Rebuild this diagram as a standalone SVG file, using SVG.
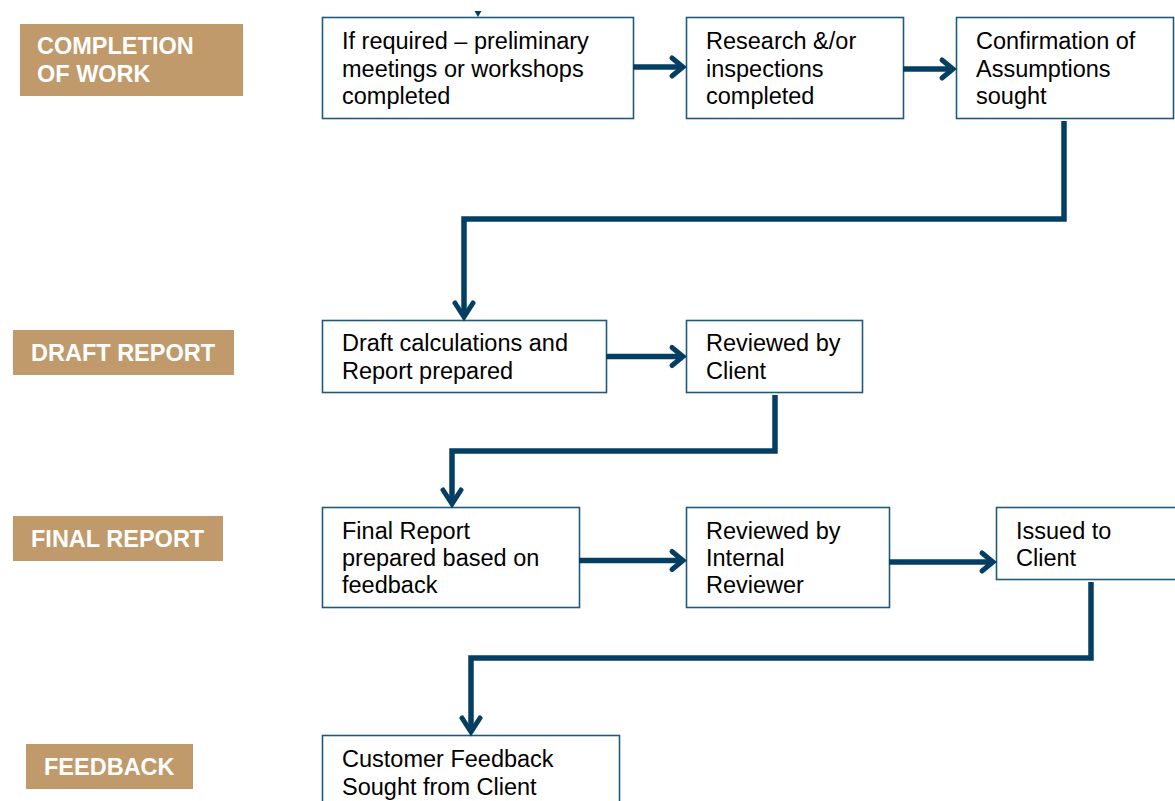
<svg xmlns="http://www.w3.org/2000/svg" width="1175" height="801" viewBox="0 0 1175 801">
  <style>
    .stage rect { fill: #C09A6B; }
    .stage text { fill: #FFFFFF; font-family: "Liberation Sans", Arial, sans-serif; font-weight: bold; font-size: 23.5px; }
    .node rect { fill: #FFFFFF; stroke: #1F5A7C; stroke-width: 1.6; }
    .node text { fill: #000000; font-family: "Liberation Sans", Arial, sans-serif; font-size: 23.5px; }
    .flow { fill: none; stroke: #043F63; stroke-width: 5.5; stroke-linejoin: miter; }
    .head { fill: none; stroke: #043F63; stroke-width: 5; stroke-linecap: round; stroke-linejoin: miter; }
  </style>

  <!-- stage labels -->
  <g id="stage-completion" class="stage">
    <rect x="20" y="24" width="223" height="72"/>
    <text x="37" y="54">COMPLETION</text>
    <text x="37" y="81.5">OF WORK</text>
  </g>
  <g id="stage-draft" class="stage">
    <rect x="13" y="330" width="221" height="45"/>
    <text x="31" y="361">DRAFT REPORT</text>
  </g>
  <g id="stage-final" class="stage">
    <rect x="13" y="516" width="210" height="45"/>
    <text x="31" y="547">FINAL REPORT</text>
  </g>
  <g id="stage-feedback" class="stage">
    <rect x="26" y="744" width="167" height="45"/>
    <text x="44" y="775">FEEDBACK</text>
  </g>

  <!-- process steps -->
  <g id="node-meetings" class="node">
    <rect x="322.5" y="17.5" width="311" height="101"/>
    <text x="342" y="49">If required – preliminary</text>
    <text x="342" y="76.5">meetings or workshops</text>
    <text x="342" y="104">completed</text>
  </g>
  <g id="node-research" class="node">
    <rect x="686.5" y="17.5" width="217" height="101"/>
    <text x="706" y="49">Research &amp;/or</text>
    <text x="706" y="76.5">inspections</text>
    <text x="706" y="104">completed</text>
  </g>
  <g id="node-assumptions" class="node">
    <rect x="956.5" y="17.5" width="217" height="101"/>
    <text x="976" y="49">Confirmation of</text>
    <text x="976" y="76.5">Assumptions</text>
    <text x="976" y="104">sought</text>
  </g>
  <g id="node-draft" class="node">
    <rect x="322.5" y="320.5" width="284" height="72"/>
    <text x="342" y="351">Draft calculations and</text>
    <text x="342" y="378.5">Report prepared</text>
  </g>
  <g id="node-client-review" class="node">
    <rect x="686.5" y="320.5" width="176" height="72"/>
    <text x="706" y="351">Reviewed by</text>
    <text x="706" y="378.5">Client</text>
  </g>
  <g id="node-final" class="node">
    <rect x="322.5" y="507.5" width="257" height="100"/>
    <text x="342" y="538.5">Final Report</text>
    <text x="342" y="566">prepared based on</text>
    <text x="342" y="593">feedback</text>
  </g>
  <g id="node-internal-review" class="node">
    <rect x="686.5" y="507.5" width="203" height="100"/>
    <text x="706" y="538.5">Reviewed by</text>
    <text x="706" y="566">Internal</text>
    <text x="706" y="593">Reviewer</text>
  </g>
  <g id="node-issued" class="node">
    <rect x="996.5" y="507.5" width="180" height="72"/>
    <text x="1016" y="538.5">Issued to</text>
    <text x="1016" y="566">Client</text>
  </g>
  <g id="node-feedback" class="node">
    <rect x="322.5" y="735.5" width="297" height="70"/>
    <text x="342" y="767">Customer Feedback</text>
    <text x="342" y="794.5">Sought from Client</text>
  </g>

  <!-- connectors -->
  <g id="connectors">
    <!-- incoming tip from the previous stage -->
    <path d="M474.5 11 L481.5 11 L478 17 Z" fill="#043F63"/>

    <path class="flow" d="M633 67 H682"/>
    <path class="head" d="M672 58 L683 67 L672 76"/>

    <path class="flow" d="M903 69 H952"/>
    <path class="head" d="M942 60 L953 69 L942 78"/>

    <path class="flow" d="M1064 121 V219 H464 V315"/>
    <path class="head" d="M455 303 L464 317 L473 303"/>

    <path class="flow" d="M606 356.5 H682"/>
    <path class="head" d="M672 347.5 L683 356.5 L672 365.5"/>

    <path class="flow" d="M775 395 V451 H452 V502"/>
    <path class="head" d="M443 490 L452 504 L461 490"/>

    <path class="flow" d="M579 560.5 H682"/>
    <path class="head" d="M672 551.5 L683 560.5 L672 569.5"/>

    <path class="flow" d="M889 562 H992"/>
    <path class="head" d="M982 553 L993 562 L982 571"/>

    <path class="flow" d="M1091 582 V658 H471 V730"/>
    <path class="head" d="M462 718 L471 732 L480 718"/>
  </g>
</svg>
